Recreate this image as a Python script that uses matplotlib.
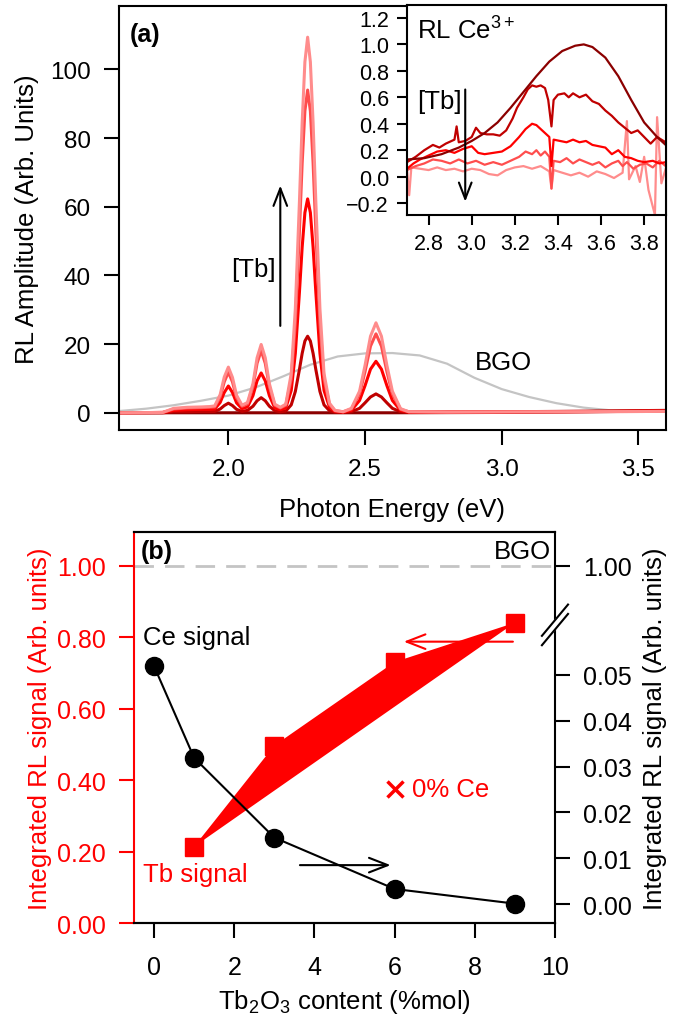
import matplotlib
matplotlib.use('Agg')
import matplotlib.pyplot as plt
from matplotlib.patches import Polygon

plt.rcParams['font.family'] = ['Liberation Sans', 'DejaVu Sans']
plt.rcParams['mathtext.fontset'] = 'custom'
plt.rcParams['mathtext.rm'] = 'Liberation Sans'
plt.rcParams['mathtext.it'] = 'Liberation Sans:italic'
plt.rcParams['mathtext.bf'] = 'Liberation Sans:bold'
plt.rcParams['axes.linewidth'] = 1.5

#------------------------------------------------------------------------------#
# (a) RL spectra of Tb3+ emission
e_tb = [1.60, 1.76, 1.80, 1.85, 1.90, 1.93, 1.95, 1.97, 1.985, 2.00, 2.015, 2.03,
        2.05, 2.07, 2.09, 2.105, 2.12, 2.135, 2.15, 2.17, 2.19, 2.21, 2.23, 2.245,
        2.26, 2.27, 2.28, 2.29, 2.30, 2.31, 2.32, 2.335, 2.35, 2.37, 2.39, 2.42,
        2.45, 2.48, 2.50, 2.52, 2.54, 2.56, 2.58, 2.60, 2.63, 2.66, 2.80, 3.20, 3.60]
rl_tb9 = [0, 0.1, 1.3, 1.6, 1.7, 1.8, 2.0, 5.3, 10.4, 13.3, 10.3, 5.1,
          2.2, 3.0, 8.5, 16.0, 19.9, 16.0, 8.5, 2.5, 1.6, 2.5, 11.4, 30.3,
          61.5, 84.5, 102.2, 109.4, 102.2, 84.5, 61.5, 30.3, 11.4, 2.8, 0.7, 0.3,
          1.3, 6.3, 13.8, 22.3, 26.2, 22.3, 13.8, 6.3, 1.2, 0.3, 0.2, 0.3, 0.4]
rl_tb6 = [0, 0.1, 1.1, 1.4, 1.5, 1.6, 1.7, 4.6, 9.0, 11.8, 9.0, 4.4,
          1.9, 2.6, 7.6, 14.4, 18.1, 14.4, 7.6, 2.2, 1.4, 2.2, 9.8, 26.1,
          52.9, 72.7, 87.9, 94.0, 87.9, 72.7, 52.9, 26.1, 9.8, 2.4, 0.6, 0.3,
          1.1, 5.5, 12.0, 19.4, 23.0, 19.4, 12.0, 5.5, 1.0, 0.3, 0.2, 0.3, 0.4]
rl_tb3 = [0, 0.1, 0.7, 0.9, 1.0, 1.0, 1.1, 3.0, 5.9, 7.8, 5.9, 2.9,
          1.2, 1.7, 5.0, 9.3, 11.6, 9.3, 5.0, 1.4, 0.9, 1.4, 6.5, 17.3,
          35.1, 48.2, 58.3, 62.3, 58.3, 48.2, 35.1, 17.3, 6.5, 1.6, 0.4, 0.2,
          0.7, 3.6, 7.9, 12.7, 15.0, 12.7, 7.9, 3.6, 0.7, 0.2, 0.2, 0.3, 0.5]
rl_tb1 = [0, 0.0, 0.3, 0.3, 0.4, 0.4, 0.4, 1.1, 2.1, 2.8, 2.1, 1.0,
          0.4, 0.7, 1.9, 3.5, 4.4, 3.5, 1.9, 0.6, 0.3, 0.5, 2.3, 6.2,
          12.6, 17.3, 20.9, 22.3, 20.9, 17.3, 12.6, 6.2, 2.3, 0.6, 0.2, 0.1,
          0.3, 1.3, 2.9, 4.6, 5.5, 4.6, 2.9, 1.3, 0.3, 0.1, 0.2, 0.4, 0.7]
e_tb0 = [1.60, 2.60, 3.00, 3.30, 3.60]
rl_tb0 = [0.0, 0.0, 0.1, 0.3, 0.5]

e_bgo = [1.60, 1.70, 1.80, 1.90, 2.00, 2.10, 2.20, 2.30, 2.40, 2.50, 2.60,
         2.70, 2.80, 2.90, 3.00, 3.10, 3.20, 3.30, 3.40, 3.50, 3.60]
rl_bgo = [0.5, 1.2, 2.2, 3.5, 5.0, 7.4, 10.6, 14.0, 16.4, 17.3, 17.4,
          16.7, 14.3, 10.2, 6.9, 4.6, 2.8, 1.5, 0.7, 0.4, 0.3]

# inset: Ce3+ band, normalised
e_ce0 = [2.70, 2.78, 2.86, 2.94, 3.00, 3.06, 3.12, 3.18, 3.24, 3.30, 3.36, 3.42,
         3.48, 3.52, 3.56, 3.62, 3.68, 3.74, 3.80, 3.86, 3.90]
ce_tb0 = [0.13, 0.14, 0.17, 0.22, 0.27, 0.33, 0.41, 0.52, 0.64, 0.76, 0.87, 0.95,
          0.99, 1.00, 0.98, 0.90, 0.76, 0.58, 0.41, 0.30, 0.24]
e_ce1 = [2.70, 2.74, 2.78, 2.82, 2.85, 2.88, 2.92, 2.93, 2.94, 2.97, 3.00, 3.02,
         3.04, 3.07, 3.10, 3.13, 3.16, 3.19, 3.21, 3.24, 3.26, 3.28, 3.30, 3.32,
         3.34, 3.355, 3.37, 3.38, 3.40, 3.43, 3.45, 3.47, 3.50, 3.53, 3.56, 3.59,
         3.62, 3.65, 3.68, 3.71, 3.74, 3.77, 3.80, 3.83, 3.86, 3.90]
ce_tb1 = [0.11, 0.15, 0.20, 0.24, 0.22, 0.25, 0.28, 0.38, 0.26, 0.27, 0.30, 0.37,
          0.33, 0.32, 0.32, 0.31, 0.35, 0.44, 0.52, 0.60, 0.66, 0.69, 0.68, 0.69,
          0.67, 0.58, 0.38, 0.58, 0.62, 0.63, 0.60, 0.63, 0.60, 0.62, 0.57, 0.55,
          0.50, 0.46, 0.41, 0.37, 0.33, 0.35, 0.30, 0.25, 0.30, 0.26]
e_ce3 = [2.70, 2.73, 2.76, 2.80, 2.84, 2.88, 2.92, 2.96, 3.00, 3.03, 3.06, 3.10,
         3.14, 3.18, 3.22, 3.25, 3.28, 3.30, 3.32, 3.34, 3.36, 3.37, 3.38, 3.41,
         3.44, 3.47, 3.50, 3.53, 3.56, 3.59, 3.62, 3.65, 3.68, 3.71, 3.74, 3.77,
         3.80, 3.84, 3.87, 3.90]
ce_tb3 = [0.06, 0.10, 0.13, 0.16, 0.19, 0.20, 0.18, 0.21, 0.23, 0.18, 0.17, 0.18,
          0.19, 0.23, 0.30, 0.36, 0.40, 0.39, 0.36, 0.33, 0.30, 0.08, 0.28, 0.27,
          0.26, 0.28, 0.26, 0.27, 0.24, 0.23, 0.22, 0.17, 0.20, 0.15, 0.14, 0.12,
          0.11, 0.12, 0.10, 0.11]
e_ce6 = [2.70, 2.74, 2.78, 2.82, 2.86, 2.90, 2.94, 2.98, 3.02, 3.06, 3.10, 3.14,
         3.18, 3.22, 3.25, 3.28, 3.30, 3.32, 3.34, 3.36, 3.37, 3.38, 3.41, 3.44,
         3.47, 3.50, 3.53, 3.56, 3.59, 3.62, 3.65, 3.68, 3.70, 3.72, 3.75, 3.78,
         3.81, 3.84, 3.87, 3.90]
ce_tb6 = [0.05, 0.08, 0.10, 0.13, 0.12, 0.10, 0.13, 0.10, 0.12, 0.09, 0.11, 0.09,
          0.12, 0.15, 0.19, 0.17, 0.20, 0.16, 0.19, 0.15, -0.09, 0.12, 0.11, 0.14,
          0.10, 0.13, 0.11, 0.09, 0.11, 0.07, 0.10, 0.12, 0.08, 0.11, 0.06, 0.09,
          0.10, 0.07, 0.12, 0.08]
e_ce9 = [2.70, 2.71, 2.72, 2.76, 2.80, 2.84, 2.88, 2.92, 2.96, 3.00, 3.04, 3.08,
         3.12, 3.16, 3.20, 3.24, 3.28, 3.32, 3.36, 3.37, 3.38, 3.42, 3.46, 3.50,
         3.54, 3.58, 3.62, 3.66, 3.70, 3.72, 3.73, 3.76, 3.78, 3.80, 3.82, 3.85,
         3.86, 3.88, 3.90]
ce_tb9 = [0.05, -0.14, 0.07, 0.06, 0.05, 0.07, 0.05, 0.06, 0.04, 0.06, 0.05, 0.02,
          0.01, 0.05, 0.07, 0.08, 0.06, 0.08, 0.04, -0.09, 0.05, 0.03, 0.01, 0.03,
          0.00, 0.04, 0.02, -0.01, 0.03, 0.42, -0.02, 0.08, -0.04, 0.15, -0.10, -0.29,
          0.45, -0.05, 0.06]

# (b) integrated signals vs Tb2O3 content
tb_pct = [1, 3, 6, 9]
tb_signal = [0.214, 0.497, 0.731, 0.841]
ce_pct = [0, 1, 3, 6, 9]
ce_signal = [0.0519, 0.0319, 0.0145, 0.0033, 0.0001]
noce_pct = [6]
noce_signal = [0.375]

c0, c1, c3, c6, c9 = '#8b0000', '#c00000', '#ff0000', '#ff4d4d', '#ff8c8c'
arrow = '->,head_length=0.9,head_width=0.35'

fig = plt.figure(figsize=(6.9, 10.2), dpi=100)

#------------------------------------------------------------------------------#
# panel (a)
ax = fig.add_axes([0.1725, 0.5775, 0.7923, 0.4157])
ax.plot(e_bgo, rl_bgo, color='#c4c4c4', lw=1.6)
ax.plot(e_tb0, rl_tb0, color=c0, lw=2.2)
ax.plot(e_tb, rl_tb1, color=c1, lw=2.2)
ax.plot(e_tb, rl_tb3, color=c3, lw=2.2)
ax.plot(e_tb, rl_tb6, color=c6, lw=2.2)
ax.plot(e_tb, rl_tb9, color=c9, lw=2.2)
ax.set_xlim(1.6, 3.6)
ax.set_ylim(-5, 118.5)
ax.set_xticks([2.0, 2.5, 3.0, 3.5])
ax.set_yticks([0, 20, 40, 60, 80, 100])
ax.tick_params(direction='out', length=10.5, width=1.5, labelsize=17.5, pad=10)
ax.set_xlabel('Photon Energy (eV)', fontsize=18.5, labelpad=12)
ax.set_ylabel('RL Amplitude (Arb. Units)', fontsize=18.5, labelpad=8)
ax.text(0.02, 0.934, '(a)', transform=ax.transAxes, fontsize=18,
        fontweight='bold', va='center')
ax.text(3.006, 14.8, 'BGO', fontsize=18.5, ha='center', va='center')
ax.text(2.175, 42, '[Tb]', fontsize=18.5, ha='right', va='center')
ax.annotate('', xy=(2.19, 67), xytext=(2.19, 24.5),
            arrowprops=dict(arrowstyle=arrow, lw=1.5, color='k',
                            mutation_scale=14))

# inset
axi = fig.add_axes([0.5899, 0.7882, 0.3749, 0.2062])
axi.plot(e_ce9, ce_tb9, color=c9, lw=1.6)
axi.plot(e_ce6, ce_tb6, color=c6, lw=1.6)
axi.plot(e_ce3, ce_tb3, color=c3, lw=1.6)
axi.plot(e_ce1, ce_tb1, color=c1, lw=1.6)
axi.plot(e_ce0, ce_tb0, color=c0, lw=1.6)
axi.set_xlim(2.7, 3.9)
axi.set_ylim(-0.29, 1.30)
axi.set_xticks([2.8, 3.0, 3.2, 3.4, 3.6, 3.8])
axi.set_yticks([-0.2, 0.0, 0.2, 0.4, 0.6, 0.8, 1.0, 1.2])
axi.tick_params(direction='out', length=7, width=1.5, labelsize=15.5, pad=6)
axi.text(2.748, 1.107, 'RL Ce$^{3+}$', fontsize=18.5, va='center')
axi.text(2.952, 0.571, '[Tb]', fontsize=18.5, ha='right', va='center')
axi.annotate('', xy=(2.97, -0.21), xytext=(2.97, 0.68),
             arrowprops=dict(arrowstyle=arrow, lw=1.5, color='k',
                             mutation_scale=13))

#------------------------------------------------------------------------------#
# panel (b)
bx = fig.add_axes([0.1942, 0.0941, 0.6101, 0.3833])
bx.axhline(1.0, color='#c4c4c4', lw=2, dashes=(7, 4))
bx.fill(tb_pct, tb_signal, color='red', lw=0)
bx.plot(tb_pct, tb_signal, 's', color='red', ms=13)
bx.plot(noce_pct, noce_signal, 'x', color='red', ms=11, mew=2.5)
bx.set_xlim(-0.5, 10)
bx.set_ylim(0, 1.095)
bx.set_xticks([0, 2, 4, 6, 8, 10])
bx.set_yticks([0, 0.2, 0.4, 0.6, 0.8, 1.0])
bx.set_yticklabels(['0.00', '0.20', '0.40', '0.60', '0.80', '1.00'])
bx.tick_params(direction='out', length=11, width=1.5, labelsize=18, pad=9)
bx.tick_params(axis='x', pad=12)
bx.tick_params(axis='y', colors='red')
bx.spines['left'].set_color('red')
bx.spines['right'].set_visible(False)
bx.set_ylabel('Integrated RL signal (Arb. units)', color='red', fontsize=18.5,
              labelpad=4)
bx.set_xlabel('Tb$_2$O$_3$ content (%mol)', fontsize=18.5, labelpad=6)
bx.text(-0.33, 1.043, '(b)', fontsize=18, fontweight='bold', va='center')
bx.text(9.9, 1.043, 'BGO', fontsize=18.5, ha='right', va='center')
bx.text(-0.28, 0.80, 'Ce signal', fontsize=18.5, va='center')
bx.text(-0.28, 0.137, 'Tb signal', fontsize=18.5, va='center', color='red')
bx.text(6.44, 0.375, '0% Ce', fontsize=18.5, va='center', color='red')
bx.annotate('', xy=(6.16, 0.788), xytext=(9.02, 0.788),
            arrowprops=dict(arrowstyle=arrow, lw=1.5, color='red',
                            mutation_scale=15))

# right axis with a break between 0.05 and 1.00
scale, off = 12.84, 0.053
bx2 = bx.twinx()
bx2.set_ylim((0 - off) / scale, (1.095 - off) / scale)
bx2.plot(ce_pct, ce_signal, 'o-', color='k', ms=13, lw=1.5)
bx2.annotate('', xy=(5.97, 0.0085), xytext=(3.57, 0.0085),
             arrowprops=dict(arrowstyle=arrow, lw=1.5, color='k',
                             mutation_scale=15))
bx2.set_yticks([0, 0.01, 0.02, 0.03, 0.04, 0.05, (1.0 - off) / scale])
bx2.set_yticklabels(['0.00', '0.01', '0.02', '0.03', '0.04', '0.05', '1.00'])
bx2.tick_params(direction='out', length=11, width=1.5, labelsize=18, pad=9)
bx2.spines['left'].set_visible(False)
bx2.set_ylabel('Integrated RL signal (Arb. units)', fontsize=18.5, labelpad=8)

yb = 0.835 / 1.095
dx, dy, gap = 0.031, 0.04, 0.012
bx2.add_patch(Polygon([(1 - dx, yb - dy - gap), (1 + dx, yb + dy - gap),
                       (1 + dx, yb + dy + gap), (1 - dx, yb - dy + gap)],
                      closed=True, transform=bx2.transAxes, color='white',
                      clip_on=False, zorder=10))
for s in (-gap, gap):
    bx2.plot([1 - dx, 1 + dx], [yb - dy + s, yb + dy + s], color='k', lw=1.5,
             transform=bx2.transAxes, clip_on=False, zorder=11)

fig.savefig('out.png', dpi=100)
